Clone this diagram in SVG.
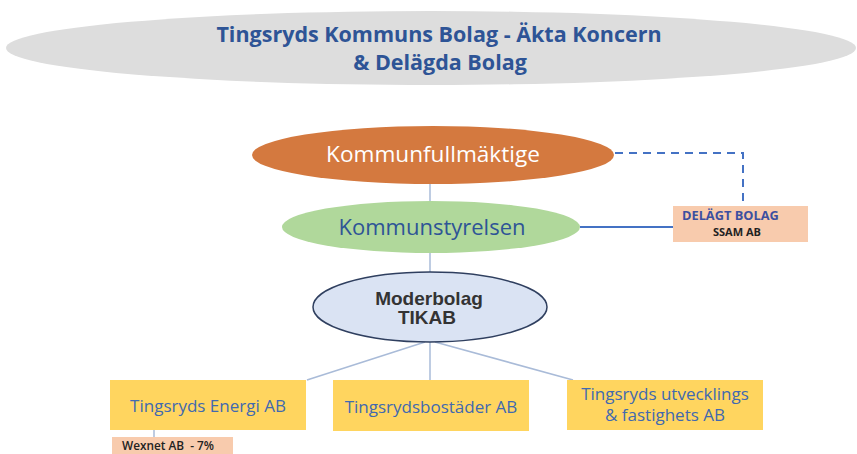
<svg xmlns="http://www.w3.org/2000/svg" width="857" height="454" viewBox="0 0 857 454">
<style>
.conn{stroke:#a9bbd8;stroke-width:1.5;fill:none}
.blue{stroke:#4472c4;stroke-width:2;fill:none}
.box{fill:#ffd55f}
.boxt{font-family:"Open Sans",sans-serif;font-size:17px;fill:#4169b0;text-anchor:middle}
.peach{fill:#f8cbad}
</style>
<rect width="857" height="454" fill="#ffffff"/>
<g id="title">
<ellipse cx="431" cy="48" rx="425" ry="37" fill="#dddddd"/>
<text x="439" y="42" font-family="Open Sans, sans-serif" font-weight="bold" font-size="21.5" fill="#2e5496" text-anchor="middle">Tingsryds Kommuns Bolag - Äkta Koncern</text>
<text x="440" y="70" font-family="Open Sans, sans-serif" font-weight="bold" font-size="21.5" fill="#2e5496" text-anchor="middle">&amp; Delägda Bolag</text>
</g>
<g id="connectors">
<line class="conn" x1="430" y1="184" x2="430" y2="201"/>
<line class="conn" x1="430" y1="253" x2="430" y2="272"/>
<line class="conn" x1="425" y1="342" x2="307" y2="380"/>
<line class="conn" x1="430" y1="342" x2="430" y2="380"/>
<line class="conn" x1="435" y1="342" x2="573" y2="380"/>
<line class="conn" x1="154" y1="430" x2="154" y2="437"/>
<line class="blue" x1="580" y1="227" x2="673" y2="227"/>
<polyline class="blue" points="615,153 743,153 743,206" stroke-dasharray="8 6" stroke-width="2.5"/>
</g>
<g id="kommunfullmaktige">
<ellipse cx="433" cy="155" rx="181" ry="29" fill="#d4793f"/>
<text x="433" y="162" font-family="Open Sans, sans-serif" font-size="22.6" fill="#ffffff" text-anchor="middle">Kommunfullmäktige</text>
</g>
<g id="kommunstyrelsen">
<ellipse cx="431" cy="227" rx="149" ry="26" fill="#b0d89b"/>
<text x="432" y="235" font-family="Open Sans, sans-serif" font-size="22" fill="#2e5496" text-anchor="middle">Kommunstyrelsen</text>
</g>
<g id="moderbolag">
<ellipse cx="430" cy="307" rx="117" ry="35" fill="#dae3f3" stroke="#2f3f5f" stroke-width="1.5"/>
<text x="429" y="305" font-family="Liberation Sans, Arial, sans-serif" font-weight="bold" font-size="19" fill="#333333" text-anchor="middle">Moderbolag</text>
<text x="427" y="324" font-family="Liberation Sans, Arial, sans-serif" font-weight="bold" font-size="19" fill="#333333" text-anchor="middle">TIKAB</text>
</g>
<g id="ssam">
<rect class="peach" x="673" y="206" width="135" height="36"/>
<text x="682" y="220" font-family="Open Sans, sans-serif" font-weight="bold" font-size="12.8" fill="#3c4fa0">DELÄGT BOLAG</text>
<text x="713" y="236" font-family="Open Sans, sans-serif" font-weight="bold" font-size="11" fill="#222222">SSAM AB</text>
</g>
<g id="energi">
<rect class="box" x="110" y="380" width="196" height="50"/>
<text class="boxt" x="208" y="412">Tingsryds Energi AB</text>
</g>
<g id="bostader">
<rect class="box" x="333" y="380" width="196" height="51"/>
<text class="boxt" x="431" y="413">Tingsrydsbostäder AB</text>
</g>
<g id="utvecklings">
<rect class="box" x="567" y="380" width="196" height="50"/>
<text class="boxt" x="665" y="400">Tingsryds utvecklings</text>
<text class="boxt" x="665" y="421">&amp; fastighets AB</text>
</g>
<g id="wexnet">
<rect class="peach" x="112" y="437" width="121" height="20"/>
<text x="122" y="450" font-family="Open Sans, sans-serif" font-weight="600" font-size="11.8" fill="#222222" xml:space="preserve">Wexnet AB  - 7%</text>
</g>
</svg>
